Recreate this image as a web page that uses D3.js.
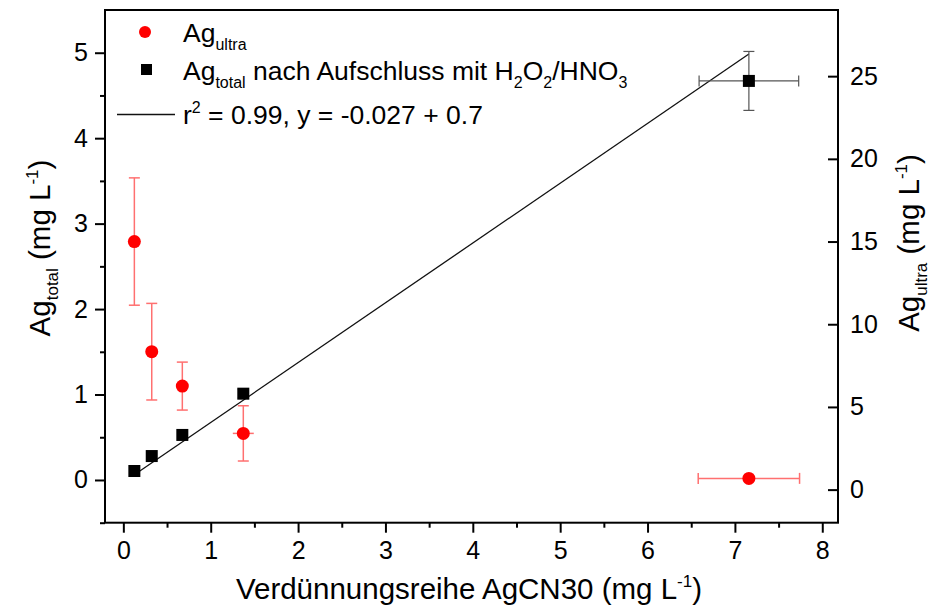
<!DOCTYPE html>
<html>
<head>
<meta charset="utf-8">
<script src="https://cdn.jsdelivr.net/npm/d3@7"></script>
<style>
  html, body { margin: 0; padding: 0; background: #fff; }
  svg text { font-family: Arial, "Liberation Sans", Helvetica, sans-serif; fill: #000; }
</style>
</head>
<body>
<svg id="chart" width="933" height="609"></svg>
<script>
// Dilution series AgCN30 (mg/L) — x positions of the samples
const xConc = [0.126, 0.325, 0.675, 1.373, 7.16];

// Ag total after digestion with H2O2/HNO3 (left axis, mg/L)
const agTotal = [0.105, 0.28, 0.527, 1.01, 4.67];
const agTotalErrY = [0.0, 0.0, 0.0, 0.05, 0.345];
const agTotalErrX = [0, 0, 0, 0, 0.57];

// Ag in ultrafiltrate (right axis, mg/L)
const agUltra = [15.0, 8.34, 6.26, 3.40, 0.68];
const agUltraErrY = [3.85, 2.92, 1.45, 1.67, 0.0];
const agUltraErrX = [0, 0, 0, 0.12, 0.58];

// Linear fit stated in the legend: y = -0.027 + 0.7 x
const fitIntercept = -0.027;
const fitSlope = 0.7;
const fitRange = [0.126, 7.16];

// Tick values
const xTicks = [0, 1, 2, 3, 4, 5, 6, 7, 8];
const xMinorTicks = [0.5, 1.5, 2.5, 3.5, 4.5, 5.5, 6.5, 7.5];
const yLeftTicks = [0, 1, 2, 3, 4, 5];
const yLeftMinorTicks = [-0.5, 0.5, 1.5, 2.5, 3.5, 4.5];
const yRightTicks = [0, 5, 10, 15, 20, 25];

const svg = d3.select("#chart");
const L = 105, R = 838, T = 10, B = 522.7;

const x = d3.scaleLinear().domain([-0.21, 8.18]).range([L, R]);
const yL = d3.scaleLinear().domain([-0.5, 5.5]).range([B, T]);
const yR = d3.scaleLinear().domain([-2, 29]).range([B, T]);

const red = "#ff0000";
const redErr = "#ff7070";
const blackErr = "#555";
const tickFont = 25;

// ---- axes ----
function styleAxis(g) {
  g.selectAll(".domain").remove();
  g.selectAll(".tick line").attr("stroke", "#000").attr("stroke-width", 2);
  g.selectAll(".tick text").attr("font-size", tickFont).attr("fill", "#000");
}

svg.append("g").attr("transform", `translate(0,${B})`)
  .call(d3.axisBottom(x).tickValues(xTicks).tickSize(10).tickPadding(9).tickFormat(d3.format("d")))
  .call(styleAxis);
svg.append("g").attr("transform", `translate(0,${B})`)
  .call(d3.axisBottom(x).tickValues(xMinorTicks).tickSize(5).tickFormat(""))
  .call(styleAxis);

svg.append("g").attr("transform", `translate(${L},0)`)
  .call(d3.axisLeft(yL).tickValues(yLeftTicks).tickSize(10).tickPadding(7).tickFormat(d3.format("d")))
  .call(styleAxis);
svg.append("g").attr("transform", `translate(${L},0)`)
  .call(d3.axisLeft(yL).tickValues(yLeftMinorTicks).tickSize(5).tickFormat(""))
  .call(styleAxis);

svg.append("g").attr("transform", `translate(${R},0)`)
  .call(d3.axisRight(yR).tickValues(yRightTicks).tickSizeInner(-10).tickSizeOuter(0).tickPadding(12).tickFormat(d3.format("d")))
  .call(styleAxis);

// frame
svg.append("rect")
  .attr("x", L).attr("y", T).attr("width", R - L).attr("height", B - T)
  .attr("fill", "none").attr("stroke", "#000").attr("stroke-width", 2);

// ---- fit line ----
svg.append("line")
  .attr("x1", x(fitRange[0])).attr("y1", yL(fitIntercept + fitSlope * fitRange[0]))
  .attr("x2", x(fitRange[1])).attr("y2", yL(fitIntercept + fitSlope * fitRange[1]))
  .attr("stroke", "#111").attr("stroke-width", 1.3);

// ---- error bars ----
function errorBars(xs, ys, ex, ey, yScale, color, width, cap) {
  const g = svg.append("g").attr("stroke", color).attr("stroke-width", width).attr("fill", "none");
  xs.forEach((xv, i) => {
    const cx = x(xv), cy = yScale(ys[i]);
    if (ey[i] > 0) {
      const y1 = yScale(ys[i] + ey[i]), y2 = yScale(ys[i] - ey[i]);
      g.append("line").attr("x1", cx).attr("x2", cx).attr("y1", y1).attr("y2", y2);
      if (cap) {
        g.append("line").attr("x1", cx - 5.5).attr("x2", cx + 5.5).attr("y1", y1).attr("y2", y1);
        g.append("line").attr("x1", cx - 5.5).attr("x2", cx + 5.5).attr("y1", y2).attr("y2", y2);
      }
    }
    if (ex[i] > 0) {
      const x1 = x(xv - ex[i]), x2 = x(xv + ex[i]);
      g.append("line").attr("x1", x1).attr("x2", x2).attr("y1", cy).attr("y2", cy);
      if (cap && ex[i] > 0.3) {
        g.append("line").attr("x1", x1).attr("x2", x1).attr("y1", cy - 5.5).attr("y2", cy + 5.5);
        g.append("line").attr("x1", x2).attr("x2", x2).attr("y1", cy - 5.5).attr("y2", cy + 5.5);
      }
    }
  });
}
errorBars(xConc, agUltra, agUltraErrX, agUltraErrY, yR, redErr, 1.5, true);
errorBars(xConc, agTotal, agTotalErrX, agTotalErrY, yL, blackErr, 1.2, true);

// ---- points ----
svg.append("g").selectAll("rect")
  .data(xConc.map((d, i) => [d, agTotal[i]]))
  .join("rect")
  .attr("x", d => x(d[0]) - 6).attr("y", d => yL(d[1]) - 6)
  .attr("width", 12).attr("height", 12).attr("fill", "#000");

svg.append("g").selectAll("circle")
  .data(xConc.map((d, i) => [d, agUltra[i]]))
  .join("circle")
  .attr("cx", d => x(d[0])).attr("cy", d => yR(d[1]))
  .attr("r", 6.5).attr("fill", red);

// ---- legend ----
const lg = svg.append("g");
lg.append("circle").attr("cx", 145).attr("cy", 32).attr("r", 6).attr("fill", red);
lg.append("rect").attr("x", 141).attr("y", 64).attr("width", 11).attr("height", 11).attr("fill", "#000");
lg.append("line").attr("x1", 117).attr("x2", 175).attr("y1", 114.5).attr("y2", 114.5)
  .attr("stroke", "#111").attr("stroke-width", 1.3);

const lgBig = 26.5, lgSmall = 16;
const t1 = lg.append("text").attr("x", 183).attr("y", 42).attr("font-size", lgBig);
t1.append("tspan").text("Ag");
t1.append("tspan").attr("font-size", lgSmall).attr("dy", 8).text("ultra");

const t2 = lg.append("text").attr("x", 183).attr("y", 80).attr("font-size", lgBig);
t2.append("tspan").text("Ag");
t2.append("tspan").attr("font-size", lgSmall).attr("dy", 8).text("total");
t2.append("tspan").attr("dy", -8).text(" nach Aufschluss mit H");
t2.append("tspan").attr("font-size", lgSmall).attr("dy", 8).text("2");
t2.append("tspan").attr("dy", -8).text("O");
t2.append("tspan").attr("font-size", lgSmall).attr("dy", 8).text("2");
t2.append("tspan").attr("dy", -8).text("/HNO");
t2.append("tspan").attr("font-size", lgSmall).attr("dy", 8).text("3");

const t3 = lg.append("text").attr("x", 183).attr("y", 124).attr("font-size", lgBig);
t3.append("tspan").text("r");
t3.append("tspan").attr("font-size", lgSmall).attr("dy", -11).text("2");
t3.append("tspan").attr("dy", 11).text(" = 0.99, y = -0.027 + 0.7");

// ---- axis titles ----
const ttlBig = 29.5, ttlSmall = 17;
function unitTitle(sel, main, sub) {
  sel.append("tspan").text(main);
  sel.append("tspan").attr("font-size", ttlSmall).attr("dy", 8).text(sub);
  sel.append("tspan").attr("dy", -8).text(" (mg L");
  sel.append("tspan").attr("font-size", ttlSmall).attr("dy", -12).text("-1");
  sel.append("tspan").attr("dy", 12).text(")");
}

const xt = svg.append("text").attr("x", 469).attr("y", 599).attr("text-anchor", "middle").attr("font-size", ttlBig);
xt.append("tspan").text("Verdünnungsreihe AgCN30 (mg L");
xt.append("tspan").attr("font-size", ttlSmall).attr("dy", -12).text("-1");
xt.append("tspan").attr("dy", 12).text(")");

const ylt = svg.append("text").attr("transform", "translate(50,248) rotate(-90)")
  .attr("text-anchor", "middle").attr("font-size", ttlBig);
unitTitle(ylt, "Ag", "total");

const yrt = svg.append("text").attr("transform", "translate(919,243) rotate(-90)")
  .attr("text-anchor", "middle").attr("font-size", ttlBig);
unitTitle(yrt, "Ag", "ultra");
</script>
</body>
</html>
